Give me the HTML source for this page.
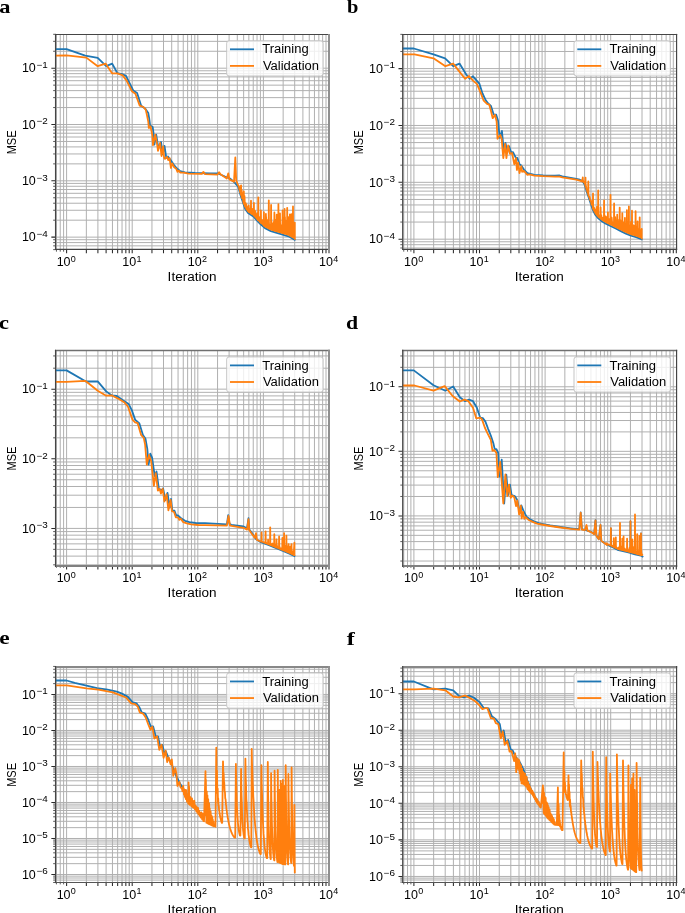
<!DOCTYPE html>
<html><head><meta charset="utf-8"><style>
html,body{margin:0;padding:0;background:#fff;}
svg{display:block;will-change:transform;}
text{font-family:"Liberation Sans",sans-serif;fill:#000;}
.t{font-size:12.5px;}
.s{font-size:9px;}
.l{font-size:12px;}
.p{font-family:"Liberation Serif",serif;font-weight:bold;font-size:19.5px;}
</style></head><body>
<svg width="685" height="913" viewBox="0 0 685 913">
<rect width="685" height="913" fill="#fff"/>
<clipPath id="clip_a"><rect x="55.55" y="34.5" width="273.45" height="214.86"/></clipPath>
<path d="M56.44 34.5V249.36M60.24 34.5V249.36M63.6 34.5V249.36M66.6 34.5V249.36M86.35 34.5V249.36M97.9 34.5V249.36M106.1 34.5V249.36M112.45 34.5V249.36M117.65 34.5V249.36M122.04 34.5V249.36M125.84 34.5V249.36M129.2 34.5V249.36M132.2 34.5V249.36M151.95 34.5V249.36M163.5 34.5V249.36M171.7 34.5V249.36M178.05 34.5V249.36M183.25 34.5V249.36M187.64 34.5V249.36M191.44 34.5V249.36M194.8 34.5V249.36M197.8 34.5V249.36M217.55 34.5V249.36M229.1 34.5V249.36M237.3 34.5V249.36M243.65 34.5V249.36M248.85 34.5V249.36M253.24 34.5V249.36M257.04 34.5V249.36M260.4 34.5V249.36M263.4 34.5V249.36M283.15 34.5V249.36M294.7 34.5V249.36M302.9 34.5V249.36M309.25 34.5V249.36M314.45 34.5V249.36M318.84 34.5V249.36M322.64 34.5V249.36M326 34.5V249.36M55.55 245.85H329M55.55 242.59H329M55.55 239.71H329M55.55 237.13H329M55.55 220.18H329M55.55 210.26H329M55.55 203.23H329M55.55 197.77H329M55.55 193.31H329M55.55 189.54H329M55.55 186.28H329M55.55 183.4H329M55.55 180.82H329M55.55 163.87H329M55.55 153.95H329M55.55 146.92H329M55.55 141.46H329M55.55 137H329M55.55 133.23H329M55.55 129.97H329M55.55 127.09H329M55.55 124.51H329M55.55 107.56H329M55.55 97.64H329M55.55 90.61H329M55.55 85.15H329M55.55 80.69H329M55.55 76.92H329M55.55 73.66H329M55.55 70.78H329M55.55 68.2H329M55.55 51.25H329M55.55 41.33H329M55.55 34.3H329" stroke="#b0b0b0" stroke-width="1" fill="none" clip-path="url(#clip_a)"/>
<path d="M55 49.1L66.6 49.1L85.2 55.7L97.7 57.9L106.2 66.2L112.2 63.6L117.4 73.2L122 74.1L126 75.8L133.2 90.5L137.1 92.9L141.1 105.6L145.3 108.8L148.3 113.1L149.2 118.4L150.1 125.4L152.7 127.1L154 136.8L154.4 144.7L156.2 134.6L158.4 148.2L161 142L162.8 154.3L164.5 146L166.3 157.8L168 156.5L170.6 160L174 165L177 168.5L180 171L185 172.3L195 173L210 173.3L218 173.5L225 176.5L230 178.5L234.7 182.6L238.2 186.7L240.5 194.9L242.8 201.9L245.2 208.9L248.1 213L253.4 216.5L258 221.7L260.4 224L265 228.1L270.9 231.1L276.7 232.8L282.6 234.6L288.4 236.3L294.7 239.8" stroke="#1f77b4" stroke-width="1.8" fill="none" stroke-linejoin="round" stroke-linecap="square" clip-path="url(#clip_a)"/>
<path d="M55 55.7L66.6 55.4L86.3 57.6L97.7 66.2L105.6 63.6L112.2 73.4L117.4 73.4L122.7 75.4L126.6 80.6L131.9 91.2L135.4 93.8L139.7 105.6L143.5 107L145.7 109.6L147 115.3L148.3 121.9L148.8 128L150.5 126.3L152.3 135L153 145.1L155.3 134.6L157.1 144.2L158 150.8L160.1 142.9L161.5 156L163.2 146.4L164.1 157.8L165 158.8L167 156.8L168.3 160.1L169.6 158.1L170.9 168L172.2 163.4L174.2 167.3L176.2 168.7L177.5 171.9L178.8 170.6L180.1 172.6L183.4 172.6L188.7 173.6L201.8 173.9L203.4 171.9L205.1 174.2L217.6 174.6L219.1 172.3L220.8 174.6L226.8 178.5L228.3 173.3L229.4 179.4L234 181.8L235.3 157.5L236.2 180.5L238.2 185.5L238.3 185.56L238.82 186.35L239.36 189.33L239.69 189.46L240.32 192.76L240.71 185.93L240.95 194.77L241.1 185.5L241.25 195.68L241.2 195.54L241.69 190.17L242.05 198.13L242.7 193.48L243.3 201.85L243.62 193.48L243.65 202.88L243.8 191.4L243.95 203.75L244.16 204.36L244.47 195.95L244.96 206.7L245.61 203.11L246.28 208.93L246.25 208.88L246.4 204.2L246.55 209.31L246.9 206.7L247.57 210.76L247.91 209.15L248.3 211.63L248.55 211.8L248.7 205.4L248.85 212L248.78 206.86L249.2 212.22L249.65 208.86L250.18 212.88L250.85 207.75L250.85 213.32L251 200.7L251.15 213.51L251.52 213.76L252.21 209.06L252.58 214.46L253.26 208.77L253.79 215.44L253.75 215.4L253.9 203L254.05 215.73L254.18 210.08L254.71 216.48L255.03 210.83L255.73 217.63L256.35 214.64L256.71 218.74L257.32 213.04L257.63 219.79L257.95 214.57L258.15 220.34L258.3 197.3L258.45 220.63L258.38 220.57L259.08 216.91L259.78 221.9L260.11 217.34L260.42 222.52L260.88 217.71L260.75 222.81L260.9 210.5L261.05 223.08L261.24 223.25L261.89 220.19L262.57 224.44L263.03 219.94L263.53 225.29L263.75 225.49L263.9 212.1L264.05 225.75L264.07 219.85L264.62 226.26L265.12 221.38L265.71 226.96L265.75 226.98L265.9 213.8L266.05 227.13L266.13 216.96L266.64 227.43L266.94 221.75L267.48 227.86L268.02 219.85L268.35 228.3L268.65 228.46L268.8 200.3L268.95 228.61L268.83 219.39L269.27 228.77L269.87 226.23L270.19 229.24L270.88 224.28L270.95 229.61L271.1 204.9L271.25 229.7L271.36 229.74L271.79 223.4L272.21 229.99L272.75 224.4L273.2 230.28L273.51 221.87L274.11 230.54L274.25 230.58L274.4 212.4L274.55 230.67L274.5 219.82L274.89 230.77L275.37 221.06L275.71 231.01L276.14 219.55L276.62 231.28L276.55 231.26L276.7 214.7L276.85 231.35L276.98 224.92L277.54 231.56L278.03 226.27L278.37 231.81L278.25 231.77L278.4 204.2L278.55 231.86L278.75 219.52L279.39 232.12L279.8 219.39L279.85 232.26L280 213.4L280.15 232.35L280.35 232.41L280.79 227.78L281.21 232.68L281.62 225.11L282.08 232.94L282.55 217.54L282.45 233.05L282.6 210.5L282.75 233.14L282.91 233.19L283.59 217.93L284.28 233.59L284.45 233.64L284.6 208.8L284.75 233.73L284.96 217.04L285.35 233.91L285.99 220.88L286.49 234.24L286.93 227.35L287.05 234.4L287.2 207.8L287.35 234.49L287.26 234.46L287.67 218.82L287.99 234.68L288.57 217.15L289.23 235.26L289.76 231.44L289.75 235.55L289.9 214.4L290.05 235.72L290.35 235.89L290.77 222.15L291.28 236.4L291.35 236.44L291.5 214.1L291.65 236.61L291.96 224.17L292.4 237.02L292.85 237.27L293 206.5L293.15 237.44L293.04 227.2L293.65 237.72L294.03 227.4L294.66 238.28L294.8 222.6L294.8 238.8" stroke="#ff7f0e" stroke-width="1.8" fill="none" stroke-linejoin="round" stroke-linecap="square" clip-path="url(#clip_a)"/>
<path d="M66.6 249.36v3.9M86.35 249.36v3.9M97.9 249.36v3.9M106.1 249.36v3.9M112.45 249.36v3.9M117.65 249.36v3.9M122.04 249.36v3.9M125.84 249.36v3.9M129.2 249.36v3.9M132.2 249.36v3.9M151.95 249.36v3.9M163.5 249.36v3.9M171.7 249.36v3.9M178.05 249.36v3.9M183.25 249.36v3.9M187.64 249.36v3.9M191.44 249.36v3.9M194.8 249.36v3.9M197.8 249.36v3.9M217.55 249.36v3.9M229.1 249.36v3.9M237.3 249.36v3.9M243.65 249.36v3.9M248.85 249.36v3.9M253.24 249.36v3.9M257.04 249.36v3.9M260.4 249.36v3.9M263.4 249.36v3.9M283.15 249.36v3.9M294.7 249.36v3.9M302.9 249.36v3.9M309.25 249.36v3.9M314.45 249.36v3.9M318.84 249.36v3.9M322.64 249.36v3.9M326 249.36v3.9M329 249.36v3.9M55.55 237.13h-4.2M55.55 180.82h-4.2M55.55 124.51h-4.2M55.55 68.2h-4.2" stroke="#2a2a2a" stroke-width="1.05" fill="none"/>
<path d="M56.44 249.36v2.3M60.24 249.36v2.3M63.6 249.36v2.3M55.55 249.62h-2.4M55.55 245.85h-2.4M55.55 242.59h-2.4M55.55 239.71h-2.4M55.55 220.18h-2.4M55.55 210.26h-2.4M55.55 203.23h-2.4M55.55 197.77h-2.4M55.55 193.31h-2.4M55.55 189.54h-2.4M55.55 186.28h-2.4M55.55 183.4h-2.4M55.55 163.87h-2.4M55.55 153.95h-2.4M55.55 146.92h-2.4M55.55 141.46h-2.4M55.55 137h-2.4M55.55 133.23h-2.4M55.55 129.97h-2.4M55.55 127.09h-2.4M55.55 107.56h-2.4M55.55 97.64h-2.4M55.55 90.61h-2.4M55.55 85.15h-2.4M55.55 80.69h-2.4M55.55 76.92h-2.4M55.55 73.66h-2.4M55.55 70.78h-2.4M55.55 51.25h-2.4M55.55 41.33h-2.4M55.55 34.3h-2.4" stroke="#333" stroke-width="0.8" fill="none"/>
<path d="M54.95 34.5H330" stroke="#454545" stroke-width="1.2"/>
<path d="M54.95 249.36H330" stroke="#454545" stroke-width="1.2"/>
<path d="M55.55 33.9V249.96" stroke="#454545" stroke-width="1.2"/>
<path d="M329 33.9V249.96" stroke="#909090" stroke-width="2"/>
<text x="56.65" y="265.86" class="t">10</text>
<text x="70.85" y="261.66" class="s">0</text>
<text x="122.25" y="265.86" class="t">10</text>
<text x="136.45" y="261.66" class="s">1</text>
<text x="187.85" y="265.86" class="t">10</text>
<text x="202.05" y="261.66" class="s">2</text>
<text x="253.45" y="265.86" class="t">10</text>
<text x="267.65" y="261.66" class="s">3</text>
<text x="319.05" y="265.86" class="t">10</text>
<text x="333.25" y="261.66" class="s">4</text>
<text x="21.9" y="241.38" class="t">10</text>
<text x="36.45" y="236.93" class="s" textLength="11.3" lengthAdjust="spacingAndGlyphs">−4</text>
<text x="21.9" y="185.07" class="t">10</text>
<text x="36.45" y="180.62" class="s" textLength="11.3" lengthAdjust="spacingAndGlyphs">−3</text>
<text x="21.9" y="128.76" class="t">10</text>
<text x="36.45" y="124.31" class="s" textLength="11.3" lengthAdjust="spacingAndGlyphs">−2</text>
<text x="21.9" y="72.45" class="t">10</text>
<text x="36.45" y="68" class="s" textLength="11.3" lengthAdjust="spacingAndGlyphs">−1</text>
<text x="192.08" y="280.86" class="l" text-anchor="middle" textLength="48.9" lengthAdjust="spacingAndGlyphs">Iteration</text>
<text transform="translate(15.85,142.43) rotate(-90)" x="0" y="0" class="l" text-anchor="middle" textLength="23.9" lengthAdjust="spacingAndGlyphs">MSE</text>
<rect x="226.7" y="40.8" width="96.4" height="35.2" rx="2.4" fill="#fff" fill-opacity="0.8" stroke="#c2c2c2" stroke-width="0.95"/>
<path d="M230 49.3h24" stroke="#1f77b4" stroke-width="1.8"/>
<path d="M230 65.9h24" stroke="#ff7f0e" stroke-width="1.8"/>
<text x="262.2" y="53.4" class="l" textLength="46.5" lengthAdjust="spacingAndGlyphs">Training</text>
<text x="262.9" y="69.9" class="l" textLength="56.1" lengthAdjust="spacingAndGlyphs">Validation</text>
<text x="-0.8" y="12.7" class="p" textLength="11.2" lengthAdjust="spacingAndGlyphs">a</text>
<clipPath id="clip_b"><rect x="402.7" y="34.5" width="273.6" height="214.86"/></clipPath>
<path d="M403.74 34.5V249.36M407.54 34.5V249.36M410.9 34.5V249.36M413.9 34.5V249.36M433.65 34.5V249.36M445.2 34.5V249.36M453.4 34.5V249.36M459.75 34.5V249.36M464.95 34.5V249.36M469.34 34.5V249.36M473.14 34.5V249.36M476.5 34.5V249.36M479.5 34.5V249.36M499.25 34.5V249.36M510.8 34.5V249.36M519 34.5V249.36M525.35 34.5V249.36M530.55 34.5V249.36M534.94 34.5V249.36M538.74 34.5V249.36M542.1 34.5V249.36M545.1 34.5V249.36M564.85 34.5V249.36M576.4 34.5V249.36M584.6 34.5V249.36M590.95 34.5V249.36M596.15 34.5V249.36M600.54 34.5V249.36M604.34 34.5V249.36M607.7 34.5V249.36M610.7 34.5V249.36M630.45 34.5V249.36M642 34.5V249.36M650.2 34.5V249.36M656.55 34.5V249.36M661.75 34.5V249.36M666.14 34.5V249.36M669.94 34.5V249.36M673.3 34.5V249.36M402.7 247.99H676.3M402.7 244.69H676.3M402.7 241.78H676.3M402.7 239.18H676.3M402.7 222.06H676.3M402.7 212.05H676.3M402.7 204.95H676.3M402.7 199.44H676.3M402.7 194.93H676.3M402.7 191.13H676.3M402.7 187.83H676.3M402.7 184.92H676.3M402.7 182.32H676.3M402.7 165.2H676.3M402.7 155.19H676.3M402.7 148.09H676.3M402.7 142.58H676.3M402.7 138.07H676.3M402.7 134.27H676.3M402.7 130.97H676.3M402.7 128.06H676.3M402.7 125.46H676.3M402.7 108.34H676.3M402.7 98.33H676.3M402.7 91.23H676.3M402.7 85.72H676.3M402.7 81.21H676.3M402.7 77.41H676.3M402.7 74.11H676.3M402.7 71.2H676.3M402.7 68.6H676.3M402.7 51.48H676.3M402.7 41.47H676.3M402.7 34.37H676.3" stroke="#b0b0b0" stroke-width="1" fill="none" clip-path="url(#clip_b)"/>
<path d="M402 48.5L413.8 48.5L433.5 54.4L445.1 58.3L453.2 66.2L459.5 63.6L466.4 74.7L469.7 78.7L473 76.3L479.5 83.9L482.5 93.5L485.3 99.4L487.9 103.3L490.9 105.9L493.6 114.3L496.2 114.7L498 120.4L499.7 137.9L501.9 130.9L503.8 150.8L505.5 142.9L507.3 152.5L509 146L511.2 152.5L513 152.1L516 158.2L517.3 157.8L519.5 164.3L521.3 165.6L523.9 169.6L527.4 173.1L534.4 174.8L543.2 175.5L555 175.7L559.6 175.5L562.3 176.4L576.3 178.8L579.8 179.7L582.4 181L584.6 184.6L586.8 192L589.4 199.5L592.7 209.6L595.2 214.7L598.3 218.3L601.4 220.9L605.4 223.4L610.5 226L615.7 228.5L620.8 231.1L625.9 233.6L631 235.7L636.1 237.2L641.7 239.3" stroke="#1f77b4" stroke-width="1.8" fill="none" stroke-linejoin="round" stroke-linecap="square" clip-path="url(#clip_b)"/>
<path d="M402 54.4L414.5 54.4L433.5 58.3L445.4 66.2L453.2 63.6L459.8 72.1L465.1 78.7L469 76L473 80.6L476.9 83.9L480.8 93.1L483.5 100.3L487 103.8L489.2 104.6L490.9 110.8L492.7 118.2L494.9 114.7L496.6 121.3L497.5 138.8L500.3 135L501.6 138.5L503.3 158.2L505.1 143.8L506.4 158.2L508.1 145.5L509.9 153.8L512.1 153L514.3 164.3L516 158.2L516.9 170L518.2 162.6L519.5 173.1L521.3 166.1L522.1 171.8L523.9 170.9L527.4 174.8L529.2 174.4L534.4 175.7L543.2 176.2L555 176.6L559.6 176.6L562.3 177.4L576.3 179.6L579.8 180.6L582 181.5L582.2 179.4L582.8 181.53L582.65 179.91L582.8 177.3L582.95 180.4L583.47 181.26L584.14 182.53L584.63 183.2L585.19 184.26L585.35 185.62L585.5 177.6L585.65 186.63L585.53 186.24L585.93 185.9L586.46 189.36L586.85 189.42L587.52 192.56L587.88 191.51L588.23 194.64L588.15 194.39L588.3 181.4L588.45 195.26L588.59 195.2L589.23 197.52L589.62 196.79L590.27 200.66L590.95 200.6L591.52 204.5L592.2 202.44L592.89 208.48L592.85 208.41L593 193.4L593.15 209.02L593.31 206.06L593.67 210.09L594 207.6L594.54 211.86L595.11 209.3L595.54 213.59L596.03 210.48L596.52 214.73L596.84 207.01L597.15 215.47L597.79 214.4L598.05 216.51L598.2 190.5L598.35 216.84L598.41 216.89L598.94 215.59L599.26 217.6L599.94 215.23L600.54 218.68L600.45 218.6L600.6 207.5L600.75 218.85L601.22 215.2L601.66 219.56L602.27 217.49L602.87 220.32L603.51 218.75L603.95 220.99L604.1 200.4L604.25 221.18L604.19 221.14L604.63 215.47L605.29 221.83L605.96 216.59L606.39 222.4L606.76 220.26L607.12 222.78L607.82 220.17L607.75 223.1L607.9 212.5L608.05 223.25L608.14 223.3L608.65 218.78L609.05 223.76L609.68 218.88L610.15 224.32L610.35 224.42L610.5 194.8L610.65 224.57L610.81 222.54L611.31 224.89L611.66 217.68L612.34 225.39L612.96 222.97L613.43 225.91L614.07 222.04L613.95 226.16L614.1 203.5L614.25 226.3L614.55 226.45L615.19 217.22L615.67 226.99L616.26 221.43L616.68 227.5L617.04 222.53L617.05 227.69L617.2 214.7L617.35 227.84L617.73 228.04L618.28 221.93L618.72 228.54L619.13 219.73L619.55 228.96L619.7 207.6L619.85 229.12L619.78 229.08L620.39 220.18L620.97 229.68L621.57 224.41L622.15 230.26L622.15 230.26L622.3 213.2L622.45 230.41L622.65 221.17L623.22 230.79L623.9 222.8L624.43 231.38L624.75 231.54L624.9 217.8L625.05 231.68L624.95 226.97L625.52 231.91L626.15 223.61L626.77 232.46L626.75 232.45L626.9 210.1L627.05 232.57L627.33 223.03L627.96 232.95L628.59 222.02L628.75 233.27L628.9 206.4L629.05 233.4L629.17 233.45L629.85 225.89L630.36 233.94L631 221.85L631.49 234.34L631.85 234.45L632 210.7L632.15 234.54L632.08 224.24L632.45 234.63L632.98 225.12L633.45 234.92L634.06 225.67L634.64 235.27L635.01 227.99L635.57 235.54L635.45 235.51L635.6 211.2L635.75 235.6L636.14 226.89L636.46 235.83L636.85 233.05L637.2 236.11L637.58 232.15L637.45 236.21L637.6 221.4L637.75 236.32L637.89 236.37L638.34 228.92L638.88 236.74L639.54 234.94L639.55 236.99L639.7 217.3L639.85 237.11L640 237.16L640.47 234.53L641.1 237.57L641.41 231.48L641.7 229L641.7 238.3" stroke="#ff7f0e" stroke-width="1.8" fill="none" stroke-linejoin="round" stroke-linecap="square" clip-path="url(#clip_b)"/>
<path d="M413.9 249.36v3.9M433.65 249.36v3.9M445.2 249.36v3.9M453.4 249.36v3.9M459.75 249.36v3.9M464.95 249.36v3.9M469.34 249.36v3.9M473.14 249.36v3.9M476.5 249.36v3.9M479.5 249.36v3.9M499.25 249.36v3.9M510.8 249.36v3.9M519 249.36v3.9M525.35 249.36v3.9M530.55 249.36v3.9M534.94 249.36v3.9M538.74 249.36v3.9M542.1 249.36v3.9M545.1 249.36v3.9M564.85 249.36v3.9M576.4 249.36v3.9M584.6 249.36v3.9M590.95 249.36v3.9M596.15 249.36v3.9M600.54 249.36v3.9M604.34 249.36v3.9M607.7 249.36v3.9M610.7 249.36v3.9M630.45 249.36v3.9M642 249.36v3.9M650.2 249.36v3.9M656.55 249.36v3.9M661.75 249.36v3.9M666.14 249.36v3.9M669.94 249.36v3.9M673.3 249.36v3.9M676.3 249.36v3.9M402.7 239.18h-4.2M402.7 182.32h-4.2M402.7 125.46h-4.2M402.7 68.6h-4.2" stroke="#2a2a2a" stroke-width="1.05" fill="none"/>
<path d="M403.74 249.36v2.3M407.54 249.36v2.3M410.9 249.36v2.3M402.7 247.99h-2.4M402.7 244.69h-2.4M402.7 241.78h-2.4M402.7 222.06h-2.4M402.7 212.05h-2.4M402.7 204.95h-2.4M402.7 199.44h-2.4M402.7 194.93h-2.4M402.7 191.13h-2.4M402.7 187.83h-2.4M402.7 184.92h-2.4M402.7 165.2h-2.4M402.7 155.19h-2.4M402.7 148.09h-2.4M402.7 142.58h-2.4M402.7 138.07h-2.4M402.7 134.27h-2.4M402.7 130.97h-2.4M402.7 128.06h-2.4M402.7 108.34h-2.4M402.7 98.33h-2.4M402.7 91.23h-2.4M402.7 85.72h-2.4M402.7 81.21h-2.4M402.7 77.41h-2.4M402.7 74.11h-2.4M402.7 71.2h-2.4M402.7 51.48h-2.4M402.7 41.47h-2.4M402.7 34.37h-2.4" stroke="#333" stroke-width="0.8" fill="none"/>
<path d="M402.1 34.5H677.17" stroke="#454545" stroke-width="1.2"/>
<path d="M402.1 249.36H677.17" stroke="#454545" stroke-width="1.2"/>
<path d="M402.7 33.9V249.96" stroke="#454545" stroke-width="1.2"/>
<path d="M676.57 33.9V249.96" stroke="#454545" stroke-width="1.2"/>
<text x="403.95" y="265.86" class="t">10</text>
<text x="418.15" y="261.66" class="s">0</text>
<text x="469.55" y="265.86" class="t">10</text>
<text x="483.75" y="261.66" class="s">1</text>
<text x="535.15" y="265.86" class="t">10</text>
<text x="549.35" y="261.66" class="s">2</text>
<text x="600.75" y="265.86" class="t">10</text>
<text x="614.95" y="261.66" class="s">3</text>
<text x="666.35" y="265.86" class="t">10</text>
<text x="680.55" y="261.66" class="s">4</text>
<text x="369.05" y="243.43" class="t">10</text>
<text x="383.6" y="238.98" class="s" textLength="11.3" lengthAdjust="spacingAndGlyphs">−4</text>
<text x="369.05" y="186.57" class="t">10</text>
<text x="383.6" y="182.12" class="s" textLength="11.3" lengthAdjust="spacingAndGlyphs">−3</text>
<text x="369.05" y="129.71" class="t">10</text>
<text x="383.6" y="125.26" class="s" textLength="11.3" lengthAdjust="spacingAndGlyphs">−2</text>
<text x="369.05" y="72.85" class="t">10</text>
<text x="383.6" y="68.4" class="s" textLength="11.3" lengthAdjust="spacingAndGlyphs">−1</text>
<text x="539.3" y="280.86" class="l" text-anchor="middle" textLength="48.9" lengthAdjust="spacingAndGlyphs">Iteration</text>
<text transform="translate(363,142.43) rotate(-90)" x="0" y="0" class="l" text-anchor="middle" textLength="23.9" lengthAdjust="spacingAndGlyphs">MSE</text>
<rect x="574" y="40.8" width="96.4" height="35.2" rx="2.4" fill="#fff" fill-opacity="0.8" stroke="#c2c2c2" stroke-width="0.95"/>
<path d="M577.3 49.3h24" stroke="#1f77b4" stroke-width="1.8"/>
<path d="M577.3 65.9h24" stroke="#ff7f0e" stroke-width="1.8"/>
<text x="609.5" y="53.4" class="l" textLength="46.5" lengthAdjust="spacingAndGlyphs">Training</text>
<text x="610.2" y="69.9" class="l" textLength="56.1" lengthAdjust="spacingAndGlyphs">Validation</text>
<text x="347.1" y="13.1" class="p" textLength="11.39" lengthAdjust="spacingAndGlyphs">b</text>
<clipPath id="clip_c"><rect x="55.55" y="350.6" width="273.45" height="214.9"/></clipPath>
<path d="M56.44 350.6V565.5M60.24 350.6V565.5M63.6 350.6V565.5M66.6 350.6V565.5M86.35 350.6V565.5M97.9 350.6V565.5M106.1 350.6V565.5M112.45 350.6V565.5M117.65 350.6V565.5M122.04 350.6V565.5M125.84 350.6V565.5M129.2 350.6V565.5M132.2 350.6V565.5M151.95 350.6V565.5M163.5 350.6V565.5M171.7 350.6V565.5M178.05 350.6V565.5M183.25 350.6V565.5M187.64 350.6V565.5M191.44 350.6V565.5M194.8 350.6V565.5M197.8 350.6V565.5M217.55 350.6V565.5M229.1 350.6V565.5M237.3 350.6V565.5M243.65 350.6V565.5M248.85 350.6V565.5M253.24 350.6V565.5M257.04 350.6V565.5M260.4 350.6V565.5M263.4 350.6V565.5M283.15 350.6V565.5M294.7 350.6V565.5M302.9 350.6V565.5M309.25 350.6V565.5M314.45 350.6V565.5M318.84 350.6V565.5M322.64 350.6V565.5M326 350.6V565.5M55.55 564.82H329M55.55 556.12H329M55.55 549.37H329M55.55 543.86H329M55.55 539.2H329M55.55 535.16H329M55.55 531.6H329M55.55 528.41H329M55.55 507.45H329M55.55 495.19H329M55.55 486.49H329M55.55 479.74H329M55.55 474.23H329M55.55 469.57H329M55.55 465.53H329M55.55 461.97H329M55.55 458.78H329M55.55 437.82H329M55.55 425.56H329M55.55 416.86H329M55.55 410.11H329M55.55 404.6H329M55.55 399.94H329M55.55 395.9H329M55.55 392.34H329M55.55 389.15H329M55.55 368.19H329M55.55 355.93H329" stroke="#b0b0b0" stroke-width="1" fill="none" clip-path="url(#clip_c)"/>
<path d="M55 370.4L66.6 370.4L85.9 381.5L97.7 381.3L106.2 391.4L111.5 395.3L116.8 396L123.3 400.6L128.6 403.9L131.9 410.4L135.1 419.6L135.9 420.4L139.4 423.5L142.9 434.9L145.5 438.8L147.3 448.9L148.6 464.7L150.3 453.7L152.1 457.7L154.7 476L156.5 471.5L158.8 488.4L161.4 490.6L163.1 488.4L165.3 500.2L167.5 492.8L169.7 507.7L171 498.9L172.3 510.3L174.5 510.7L176.3 515.5L178 515.5L181.5 518.6L185 520.8L189.4 522.1L195.5 523L205 523.2L226.9 524.3L228.2 515.1L229.5 523.9L231.3 524.8L243.5 526.5L247 528.3L248.5 518.2L249.2 529.2L252.3 533.5L255.8 538.8L259.3 541.4L262.3 542.6L269.6 545.5L276.9 548.5L284.2 551.4L290 553.9L294.4 556.1" stroke="#1f77b4" stroke-width="1.8" fill="none" stroke-linejoin="round" stroke-linecap="square" clip-path="url(#clip_c)"/>
<path d="M55 381.9L66.6 381.9L85.2 380.9L87.2 382.2L97.7 390.7L106.2 395.7L111.5 395.3L118.1 398.6L124.6 402.6L127.9 406.5L132.5 419.6L135.1 422.3L137.6 423.1L141.1 434.9L143.8 438L145.1 444.5L146.8 464.7L149 455L151.2 461.2L153.9 485.8L155.7 473.1L157.9 490.6L159.6 488.8L160.9 493.6L162.7 488.8L164.4 501.5L166.6 494.1L168.4 510.3L170.6 499.8L171.9 511.2L174.1 512L175.8 517.3L178 517.3L179.3 519.9L180.6 518.6L183.3 522.1L186.8 523.4L191.2 524.3L198.2 525L205 525.2L226.9 525.6L228.5 516L230 525.6L243.5 527.8L247 529.6L248.5 519.1L249.2 530L252.3 534.4L254.9 537.9L256 533.1L256.8 539.7L259 540.8L261 541.5L261.2 541.36L261.56 541.42L261.45 541.46L261.6 532.4L261.75 541.58L261.89 541.64L262.34 541.84L262.84 542.01L263.31 542.16L263.65 542.34L264.28 542.47L264.67 542.74L265.35 542.57L265.45 543.05L265.6 531.3L265.75 543.17L265.81 543.19L266.12 542.56L266.54 543.48L266.89 543.15L267.51 543.87L268.05 543.13L267.95 544.04L268.1 539.7L268.25 544.16L268.5 544.26L268.82 544.01L269.2 544.54L269.67 543.94L270.05 544.88L270.2 527.3L270.35 545.01L270.21 544.95L270.63 543.45L271.21 545.36L271.74 544.16L272.39 545.85L272.8 543.52L273.15 546.16L273.75 545.55L274.25 546.61L274.15 546.57L274.3 534.2L274.45 546.69L274.82 544.54L275.35 547.06L275.77 544.98L276.31 547.46L276.35 547.47L276.5 539.3L276.65 547.6L276.79 544.93L277.47 547.93L278.03 547.33L278.62 548.38L278.95 548.51L279.1 536.4L279.25 548.63L279.31 545.68L279.73 548.82L280.29 548.26L280.78 549.24L281.13 548.42L281.73 549.62L282.13 547.58L282.25 549.83L282.4 537.9L282.55 549.94L282.78 550.04L283.26 547.2L283.91 550.49L283.95 550.5L284.1 533.1L284.25 550.62L284.56 548.53L285.02 550.96L285.68 545.69L286.04 551.39L286.25 551.48L286.4 535.7L286.55 551.61L286.43 549.22L286.93 551.77L287.33 550.64L287.8 552.15L288.32 545.89L288.45 552.43L288.6 544.1L288.75 552.56L288.9 552.63L289.45 547.6L289.77 553L290.38 546.61L291 553.6L291.46 551.61L291.35 553.78L291.5 544.1L291.65 553.93L292.01 554.11L292.34 551.26L292.71 554.45L293.03 552.92L293.39 554.79L293.83 553.08L294.4 542.6L294.4 555.2" stroke="#ff7f0e" stroke-width="1.8" fill="none" stroke-linejoin="round" stroke-linecap="square" clip-path="url(#clip_c)"/>
<path d="M66.6 565.5v3.9M86.35 565.5v3.9M97.9 565.5v3.9M106.1 565.5v3.9M112.45 565.5v3.9M117.65 565.5v3.9M122.04 565.5v3.9M125.84 565.5v3.9M129.2 565.5v3.9M132.2 565.5v3.9M151.95 565.5v3.9M163.5 565.5v3.9M171.7 565.5v3.9M178.05 565.5v3.9M183.25 565.5v3.9M187.64 565.5v3.9M191.44 565.5v3.9M194.8 565.5v3.9M197.8 565.5v3.9M217.55 565.5v3.9M229.1 565.5v3.9M237.3 565.5v3.9M243.65 565.5v3.9M248.85 565.5v3.9M253.24 565.5v3.9M257.04 565.5v3.9M260.4 565.5v3.9M263.4 565.5v3.9M283.15 565.5v3.9M294.7 565.5v3.9M302.9 565.5v3.9M309.25 565.5v3.9M314.45 565.5v3.9M318.84 565.5v3.9M322.64 565.5v3.9M326 565.5v3.9M329 565.5v3.9M55.55 528.41h-4.2M55.55 458.78h-4.2M55.55 389.15h-4.2" stroke="#2a2a2a" stroke-width="1.05" fill="none"/>
<path d="M56.44 565.5v2.3M60.24 565.5v2.3M63.6 565.5v2.3M55.55 564.82h-2.4M55.55 556.12h-2.4M55.55 549.37h-2.4M55.55 543.86h-2.4M55.55 539.2h-2.4M55.55 535.16h-2.4M55.55 531.6h-2.4M55.55 507.45h-2.4M55.55 495.19h-2.4M55.55 486.49h-2.4M55.55 479.74h-2.4M55.55 474.23h-2.4M55.55 469.57h-2.4M55.55 465.53h-2.4M55.55 461.97h-2.4M55.55 437.82h-2.4M55.55 425.56h-2.4M55.55 416.86h-2.4M55.55 410.11h-2.4M55.55 404.6h-2.4M55.55 399.94h-2.4M55.55 395.9h-2.4M55.55 392.34h-2.4M55.55 368.19h-2.4M55.55 355.93h-2.4" stroke="#333" stroke-width="0.8" fill="none"/>
<path d="M54.95 350.5H330" stroke="#707070" stroke-width="1.4"/>
<path d="M54.95 566H330" stroke="#808080" stroke-width="2"/>
<path d="M55.55 349.8V567" stroke="#454545" stroke-width="1.2"/>
<path d="M329 349.8V567" stroke="#909090" stroke-width="2"/>
<text x="56.65" y="582" class="t">10</text>
<text x="70.85" y="577.8" class="s">0</text>
<text x="122.25" y="582" class="t">10</text>
<text x="136.45" y="577.8" class="s">1</text>
<text x="187.85" y="582" class="t">10</text>
<text x="202.05" y="577.8" class="s">2</text>
<text x="253.45" y="582" class="t">10</text>
<text x="267.65" y="577.8" class="s">3</text>
<text x="319.05" y="582" class="t">10</text>
<text x="333.25" y="577.8" class="s">4</text>
<text x="21.9" y="532.66" class="t">10</text>
<text x="36.45" y="528.21" class="s" textLength="11.3" lengthAdjust="spacingAndGlyphs">−3</text>
<text x="21.9" y="463.03" class="t">10</text>
<text x="36.45" y="458.58" class="s" textLength="11.3" lengthAdjust="spacingAndGlyphs">−2</text>
<text x="21.9" y="393.4" class="t">10</text>
<text x="36.45" y="388.95" class="s" textLength="11.3" lengthAdjust="spacingAndGlyphs">−1</text>
<text x="192.08" y="597" class="l" text-anchor="middle" textLength="48.9" lengthAdjust="spacingAndGlyphs">Iteration</text>
<text transform="translate(15.85,458.55) rotate(-90)" x="0" y="0" class="l" text-anchor="middle" textLength="23.9" lengthAdjust="spacingAndGlyphs">MSE</text>
<rect x="226.7" y="356.9" width="96.4" height="35.2" rx="2.4" fill="#fff" fill-opacity="0.8" stroke="#c2c2c2" stroke-width="0.95"/>
<path d="M230 365.4h24" stroke="#1f77b4" stroke-width="1.8"/>
<path d="M230 382h24" stroke="#ff7f0e" stroke-width="1.8"/>
<text x="262.2" y="369.5" class="l" textLength="46.5" lengthAdjust="spacingAndGlyphs">Training</text>
<text x="262.9" y="386" class="l" textLength="56.1" lengthAdjust="spacingAndGlyphs">Validation</text>
<text x="-0.96" y="328.7" class="p" textLength="9.95" lengthAdjust="spacingAndGlyphs">c</text>
<clipPath id="clip_d"><rect x="402.7" y="350.6" width="273.6" height="214.9"/></clipPath>
<path d="M403.74 350.6V565.5M407.54 350.6V565.5M410.9 350.6V565.5M413.9 350.6V565.5M433.65 350.6V565.5M445.2 350.6V565.5M453.4 350.6V565.5M459.75 350.6V565.5M464.95 350.6V565.5M469.34 350.6V565.5M473.14 350.6V565.5M476.5 350.6V565.5M479.5 350.6V565.5M499.25 350.6V565.5M510.8 350.6V565.5M519 350.6V565.5M525.35 350.6V565.5M530.55 350.6V565.5M534.94 350.6V565.5M538.74 350.6V565.5M542.1 350.6V565.5M545.1 350.6V565.5M564.85 350.6V565.5M576.4 350.6V565.5M584.6 350.6V565.5M590.95 350.6V565.5M596.15 350.6V565.5M600.54 350.6V565.5M604.34 350.6V565.5M607.7 350.6V565.5M610.7 350.6V565.5M630.45 350.6V565.5M642 350.6V565.5M650.2 350.6V565.5M656.55 350.6V565.5M661.75 350.6V565.5M666.14 350.6V565.5M669.94 350.6V565.5M673.3 350.6V565.5M402.7 561.04H676.3M402.7 549.67H676.3M402.7 541.6H676.3M402.7 535.35H676.3M402.7 530.23H676.3M402.7 525.91H676.3M402.7 522.17H676.3M402.7 518.86H676.3M402.7 515.91H676.3M402.7 496.47H676.3M402.7 485.1H676.3M402.7 477.03H676.3M402.7 470.78H676.3M402.7 465.66H676.3M402.7 461.34H676.3M402.7 457.6H676.3M402.7 454.29H676.3M402.7 451.34H676.3M402.7 431.9H676.3M402.7 420.53H676.3M402.7 412.46H676.3M402.7 406.21H676.3M402.7 401.09H676.3M402.7 396.77H676.3M402.7 393.03H676.3M402.7 389.72H676.3M402.7 386.77H676.3M402.7 367.33H676.3M402.7 355.96H676.3" stroke="#b0b0b0" stroke-width="1" fill="none" clip-path="url(#clip_d)"/>
<path d="M402 370.4L413.8 370.4L433.5 385.2L445.4 390.7L453.2 386.5L459.8 397.3L465.1 401.2L469 399.7L473 401.2L476.9 407.8L480.2 417.7L482.8 418.1L485.4 421.6L488.1 428.8L490.8 435.5L493.4 443.4L494.7 449.1L496.4 449.1L498.2 453L499.5 476.7L501.7 459.6L504.2 503.5L506.3 474.6L508.1 495.2L509.9 484.7L511.6 495.2L514.7 496.1L517.3 500L519.8 513L521.3 505.3L523.5 511L526.5 516.7L530 519.3L534.4 521.5L538.8 523.2L543.2 524.1L550.2 525.5L560.4 527L570.7 528.3L579.3 529.2L580.7 512.5L581.9 529.2L585 529.8L591.1 531.8L594.2 534L595.5 520.2L596.4 535.6L598.8 539.3L600.5 525L601.3 540.8L602.6 541.9L608.8 545.5L610.7 546.4L610.9 528.3L611.1 546.5L617.5 549.8L626.3 552L630.3 553L630.5 521.3L630.7 553.1L635 554.3L640.8 555.6L641 533.5L641.2 555.8L642.5 556.5" stroke="#1f77b4" stroke-width="1.8" fill="none" stroke-linejoin="round" stroke-linecap="square" clip-path="url(#clip_d)"/>
<path d="M402 385.5L414.5 385.5L433.5 390.7L444.7 386.1L452.6 396L459.8 401.5L464.4 399.7L468.4 401.2L473 407.8L476.2 418.3L480.2 417.7L482.1 419.6L484.8 427.5L487.3 432.9L490.8 439.9L492.5 450.8L494.3 450L496.4 453L497.8 477.1L500.2 462L503.3 503.5L505.4 474.5L507.3 496.1L509 484.7L510.8 497.8L512.5 495.6L514.3 497.4L516 506.2L517.3 500.5L519.1 514.5L520.8 505.7L521.7 518.4L523 511.8L524.3 518.9L525.6 517.1L528.3 519.7L532.7 521.9L537 523.7L541.4 524.5L550.2 526L560.4 527.5L570.7 528.8L579.3 529.6L580.7 512.7L581.9 529.6L585 530.1L586.5 525L587.5 530.6L591.1 532.1L594.2 534.2L595.5 520.4L596.4 535.7L598.8 539.3L600.5 525L601.3 540.8L605.4 543.9L606 544.3L606.2 543.13L606.78 545.06L607.31 543.76L607.9 544.4L608.45 544.41L609.13 544.85L609.6 544.99L610.28 545.39L610.63 545.51L610.75 545.56L610.9 528.1L611.05 545.71L611.39 545.45L611.99 546.18L612.32 545.78L612.68 546.52L613.12 546.7L613.65 547L613.65 547L613.8 538.2L613.95 547.15L614.35 546.8L614.96 547.65L615.58 547.48L615.65 547.99L615.8 537.3L615.95 548.13L616.04 548.18L616.81 547.68L617.45 548.87L617.88 548.54L618.24 549.08L618.74 547.51L619.24 549.34L619.95 549.51L619.85 549.49L620 522.8L620.15 549.56L620.37 549.62L620.91 546.73L621.41 549.88L622.02 547.21L622.15 550.06L622.3 538.6L622.45 550.14L622.47 550.14L622.94 546.7L623.45 550.39L623.6 536.4L623.75 550.46L623.61 550.43L624.05 550.15L624.4 550.63L624.81 548.58L625.34 550.86L625.99 550.51L626.6 551.18L626.95 551.26L627.1 538.6L627.25 551.34L627.12 550.45L627.57 551.42L628.25 550.33L628.97 551.77L629.47 548.02L630.08 552.06L630.35 552.12L630.5 521.1L630.65 552.2L630.85 551.19L631.29 552.36L631.77 550.92L632.13 552.57L632.25 552.6L632.4 539.5L632.55 552.68L632.72 551.37L633.31 552.87L633.84 547.17L634.38 553.14L634.85 553.26L635 514.5L635.15 553.34L635.1 552.1L635.49 553.44L636.18 551.83L636.6 553.77L637.05 553.9L637.2 534.2L637.35 553.99L637.34 552.43L638.09 554.21L638.68 550.82L639.06 554.49L639.25 554.55L639.4 536L639.55 554.63L639.81 552.63L640.45 554.9L640.85 555.02L641 533.3L641.15 555.1L641.15 549.68L641.6 555.24L642.2 554.8" stroke="#ff7f0e" stroke-width="1.8" fill="none" stroke-linejoin="round" stroke-linecap="square" clip-path="url(#clip_d)"/>
<path d="M413.9 565.5v3.9M433.65 565.5v3.9M445.2 565.5v3.9M453.4 565.5v3.9M459.75 565.5v3.9M464.95 565.5v3.9M469.34 565.5v3.9M473.14 565.5v3.9M476.5 565.5v3.9M479.5 565.5v3.9M499.25 565.5v3.9M510.8 565.5v3.9M519 565.5v3.9M525.35 565.5v3.9M530.55 565.5v3.9M534.94 565.5v3.9M538.74 565.5v3.9M542.1 565.5v3.9M545.1 565.5v3.9M564.85 565.5v3.9M576.4 565.5v3.9M584.6 565.5v3.9M590.95 565.5v3.9M596.15 565.5v3.9M600.54 565.5v3.9M604.34 565.5v3.9M607.7 565.5v3.9M610.7 565.5v3.9M630.45 565.5v3.9M642 565.5v3.9M650.2 565.5v3.9M656.55 565.5v3.9M661.75 565.5v3.9M666.14 565.5v3.9M669.94 565.5v3.9M673.3 565.5v3.9M676.3 565.5v3.9M402.7 515.91h-4.2M402.7 451.34h-4.2M402.7 386.77h-4.2" stroke="#2a2a2a" stroke-width="1.05" fill="none"/>
<path d="M403.74 565.5v2.3M407.54 565.5v2.3M410.9 565.5v2.3M402.7 561.04h-2.4M402.7 549.67h-2.4M402.7 541.6h-2.4M402.7 535.35h-2.4M402.7 530.23h-2.4M402.7 525.91h-2.4M402.7 522.17h-2.4M402.7 518.86h-2.4M402.7 496.47h-2.4M402.7 485.1h-2.4M402.7 477.03h-2.4M402.7 470.78h-2.4M402.7 465.66h-2.4M402.7 461.34h-2.4M402.7 457.6h-2.4M402.7 454.29h-2.4M402.7 431.9h-2.4M402.7 420.53h-2.4M402.7 412.46h-2.4M402.7 406.21h-2.4M402.7 401.09h-2.4M402.7 396.77h-2.4M402.7 393.03h-2.4M402.7 389.72h-2.4M402.7 367.33h-2.4M402.7 355.96h-2.4" stroke="#333" stroke-width="0.8" fill="none"/>
<path d="M402.1 350.5H677.17" stroke="#707070" stroke-width="1.4"/>
<path d="M402.1 566H677.17" stroke="#808080" stroke-width="2"/>
<path d="M402.7 349.8V567" stroke="#454545" stroke-width="1.2"/>
<path d="M676.57 349.8V567" stroke="#454545" stroke-width="1.2"/>
<text x="403.95" y="582" class="t">10</text>
<text x="418.15" y="577.8" class="s">0</text>
<text x="469.55" y="582" class="t">10</text>
<text x="483.75" y="577.8" class="s">1</text>
<text x="535.15" y="582" class="t">10</text>
<text x="549.35" y="577.8" class="s">2</text>
<text x="600.75" y="582" class="t">10</text>
<text x="614.95" y="577.8" class="s">3</text>
<text x="666.35" y="582" class="t">10</text>
<text x="680.55" y="577.8" class="s">4</text>
<text x="369.05" y="520.16" class="t">10</text>
<text x="383.6" y="515.71" class="s" textLength="11.3" lengthAdjust="spacingAndGlyphs">−3</text>
<text x="369.05" y="455.59" class="t">10</text>
<text x="383.6" y="451.14" class="s" textLength="11.3" lengthAdjust="spacingAndGlyphs">−2</text>
<text x="369.05" y="391.02" class="t">10</text>
<text x="383.6" y="386.57" class="s" textLength="11.3" lengthAdjust="spacingAndGlyphs">−1</text>
<text x="539.3" y="597" class="l" text-anchor="middle" textLength="48.9" lengthAdjust="spacingAndGlyphs">Iteration</text>
<text transform="translate(363,458.55) rotate(-90)" x="0" y="0" class="l" text-anchor="middle" textLength="23.9" lengthAdjust="spacingAndGlyphs">MSE</text>
<rect x="574" y="356.9" width="96.4" height="35.2" rx="2.4" fill="#fff" fill-opacity="0.8" stroke="#c2c2c2" stroke-width="0.95"/>
<path d="M577.3 365.4h24" stroke="#1f77b4" stroke-width="1.8"/>
<path d="M577.3 382h24" stroke="#ff7f0e" stroke-width="1.8"/>
<text x="609.5" y="369.5" class="l" textLength="46.5" lengthAdjust="spacingAndGlyphs">Training</text>
<text x="610.2" y="386" class="l" textLength="56.1" lengthAdjust="spacingAndGlyphs">Validation</text>
<text x="346.1" y="328.85" class="p" textLength="12.14" lengthAdjust="spacingAndGlyphs">d</text>
<clipPath id="clip_e"><rect x="55.55" y="666.66" width="273.45" height="215.41"/></clipPath>
<path d="M56.44 666.66V882.07M60.24 666.66V882.07M63.6 666.66V882.07M66.6 666.66V882.07M86.35 666.66V882.07M97.9 666.66V882.07M106.1 666.66V882.07M112.45 666.66V882.07M117.65 666.66V882.07M122.04 666.66V882.07M125.84 666.66V882.07M129.2 666.66V882.07M132.2 666.66V882.07M151.95 666.66V882.07M163.5 666.66V882.07M171.7 666.66V882.07M178.05 666.66V882.07M183.25 666.66V882.07M187.64 666.66V882.07M191.44 666.66V882.07M194.8 666.66V882.07M197.8 666.66V882.07M217.55 666.66V882.07M229.1 666.66V882.07M237.3 666.66V882.07M243.65 666.66V882.07M248.85 666.66V882.07M253.24 666.66V882.07M257.04 666.66V882.07M260.4 666.66V882.07M263.4 666.66V882.07M283.15 666.66V882.07M294.7 666.66V882.07M302.9 666.66V882.07M309.25 666.66V882.07M314.45 666.66V882.07M318.84 666.66V882.07M322.64 666.66V882.07M326 666.66V882.07M55.55 880.08H329M55.55 877.99H329M55.55 876.15H329M55.55 874.5H329M55.55 863.66H329M55.55 857.32H329M55.55 852.82H329M55.55 849.33H329M55.55 846.48H329M55.55 844.07H329M55.55 841.98H329M55.55 840.14H329M55.55 838.49H329M55.55 827.65H329M55.55 821.31H329M55.55 816.81H329M55.55 813.32H329M55.55 810.47H329M55.55 808.06H329M55.55 805.97H329M55.55 804.13H329M55.55 802.48H329M55.55 791.64H329M55.55 785.3H329M55.55 780.8H329M55.55 777.31H329M55.55 774.46H329M55.55 772.05H329M55.55 769.96H329M55.55 768.12H329M55.55 766.47H329M55.55 755.63H329M55.55 749.29H329M55.55 744.79H329M55.55 741.3H329M55.55 738.45H329M55.55 736.04H329M55.55 733.95H329M55.55 732.11H329M55.55 730.46H329M55.55 719.62H329M55.55 713.28H329M55.55 708.78H329M55.55 705.29H329M55.55 702.44H329M55.55 700.03H329M55.55 697.94H329M55.55 696.1H329M55.55 694.45H329M55.55 683.61H329M55.55 677.27H329M55.55 672.77H329M55.55 669.28H329M55.55 666.43H329" stroke="#b0b0b0" stroke-width="1" fill="none" clip-path="url(#clip_e)"/>
<path d="M55 680.5L66.6 680.5L74.7 682.8L86.5 685.7L97 688.1L107.6 689.7L116.8 691.6L122 693.6L127.9 696.9L132.5 702.1L136.5 703.4L139.1 706.7L141.7 712.3L145.3 713.6L147.9 718.8L150.9 726.7L153.1 726.3L155.8 736.8L158 736.3L160.1 746.4L162.3 744.7L164.5 753.9L165.8 751.2L168 756.9L171.5 764L176 775.5L180 783.5L186 793L190 799L195 806.5L200 814L203.5 819" stroke="#1f77b4" stroke-width="1.8" fill="none" stroke-linejoin="round" stroke-linecap="square" clip-path="url(#clip_e)"/>
<path d="M55 685.4L66.6 685.4L86.5 688.3L98.4 689.7L106.2 691.2L112.8 692.3L119.4 694.9L126 697.5L131.2 703.4L135.1 704.1L137.8 706.7L139.7 712.3L143.1 713.6L145.7 717.5L148.3 724.5L150.5 729.8L152.3 726.7L154.4 738.5L157.1 736.3L159.3 749.9L161.5 744.6L163.6 757.8L165.6 750.7L167.2 762L168.7 757.4L170.7 764.5L171.8 759.4L173.3 775.8L175.3 768.1L176.4 773.7L177.4 786L179.4 781.9L180.4 787L182 789L182.5 791.19L183.19 785.8L183.96 794.65L184.43 789.75L184.9 796.88L185.32 789.83L185.78 798.98L186.35 790.18L187 801.7L187.49 794.93L188.27 803.56L188.45 803.7L188.6 782.4L188.75 803.95L189.02 786.28L189.73 804.75L190.48 797.27L191.24 805.98L191.97 798.34L192.53 807.02L193.1 801.05L193.51 807.82L194.26 800.73L194.95 809.47L195.67 805.63L196.35 811.4L196.8 807.15L197.41 812.86L197.99 807.87L198.54 814.41L199.14 810.64L199.61 815.89L200.14 812.57L200.82 817.54L201.36 812.44L202.17 819.37L202.6 813.77L203.36 820.98L204 821.3L205.5 771.2L205.6 815L205.87 779.66L206.38 822.68L206.78 791.49L207.14 823.05L207.42 795.28L207.85 823.39L208.21 799.05L208.59 823.75L209.14 803.42L209.41 824.15L209.74 808.33L210.21 824.53L210.63 811.32L211.05 824.94L211.46 815.33L211.83 825.32L212.28 816.84L212.55 825.66L212.79 819.58L213.09 825.92L213.56 821.7L213.87 826.3L214.33 824.79L215.5 826.8L216.3 747.6L216.6 784.76L216.96 770.62L217.34 792.95L217.69 788.55L218.02 803L218.25 798.45L218.47 805.65L218.81 805.74L219.07 810.26L219.33 810.89L219.7 814L219.98 815.58L220.37 817.74L220.72 819.37L221.09 820.76L221.43 821.83L221.74 822.66L221.8 822.8L222.2 822.8L223 761.3L223.3 771.39L223.67 773.61L223.99 781.86L224.22 782.32L224.6 790.41L224.99 792.67L225.22 798.2L225.58 799.41L225.95 804.4L226.23 805.79L226.45 809.42L226.72 809.97L227.11 813.93L227.46 815.31L227.82 818.35L228.13 819.46L228.52 822.16L228.79 822.88L229.05 824.66L229.29 825.15L229.61 826.83L229.92 827.62L230.15 828.74L230.53 829.67L230.8 830.63L231.17 831.52L231.48 832.42L231.7 832.84L232.04 833.67L232.34 834.23L232.6 834.76L232.94 835.34L233.2 835.79L233.59 836.39L233.96 836.91L234.28 837.31L234.6 837.7L235.2 837.7L235.9 764L236.2 782.76L236.54 791.89L236.92 806.05L237.2 809.99L237.45 816.17L237.69 818.69L237.92 822.79L238.28 825.99L238.59 829.39L238.96 831.34L239.32 833.38L239.69 834.81L239.9 835.5L240.4 835.5L241.1 769L241.4 790.26L241.76 801.09L242.09 813.12L242.31 816.87L242.54 822.69L242.79 825.61L243.1 830.05L243.34 832.01L243.6 834.48L243.9 836.1L244.18 837.56L244.4 838.4L244.8 838.4L245.4 758.6L245.7 777.03L245.99 783.07L246.37 799.36L246.63 802.35L246.89 810.67L247.17 814.53L247.38 820.51L247.7 823.53L247.98 828.92L248.25 830.73L248.57 834.9L248.88 836.72L249.2 839.5L249.59 841.58L249.93 843.52L250.2 844.6L250.52 845.86L250.83 846.8L251 847.3L251.3 847.3L251.7 749L252 763.03L252.34 770.24L252.68 782.54L252.97 787.46L253.28 796.47L253.57 800.56L253.78 806.04L254.17 811.38L254.53 818.08L254.87 821.6L255.12 825.47L255.43 828.09L255.76 831.99L256.06 834.2L256.43 837.81L256.82 840.06L257.05 842.02L257.41 843.67L257.62 845.1L257.97 846.52L258.22 847.82L258.58 849.07L258.93 850.42L259.16 851.04L259.46 851.99L259.77 852.77L260.03 853.41L260.3 854L260.8 854L261.4 765.2L261.7 783.28L262.09 795.62L262.37 806.49L262.71 815.16L262.98 823.22L263.34 829.13L263.56 833.91L263.82 836.97L264.09 841.07L264.4 844.08L264.65 846.95L264.91 848.82L265.14 850.76L265.48 852.72L265.74 854.27L266.02 855.49L266.27 856.57L266.62 857.74L266.7 858L267.2 858L267.8 762L268.1 791.37L268.39 808.46L268.69 824.77L269 834.59L269.34 844.06L269.66 849.41L269.89 853L270.16 855.67L270.52 858.5L270.6 859L270.8 859L271.1 773.1L271.4 797.71L271.72 813.46L271.96 825.37L272.31 835.39L272.6 843.01L272.94 848.8L273.29 853.71L273.55 856.05L273.81 858.13L274.05 859.61L274.2 860.4L274.4 860.4L274.6 770.7L274.9 798.05L275.2 814.98L275.49 829.89L275.76 838.04L276 845.27L276.23 849.17L276.5 853.96L276.77 856.95L277.15 860.45L277.4 862L277.6 862L277.8 769.9L278.1 817.08L278.48 843.41L278.78 855.02L279.01 859.78L279.2 862.5L279.4 862.5L279.6 790L279.9 839.59L280.27 860.04L280.4 863L280.5 863L280.7 781L281 837.04L281.35 859.48L281.5 863.5L281.6 863.5L281.8 784L282.1 838.35L282.35 856.35L282.6 864L282.7 864L282.9 780L283.2 837.2L283.57 860.67L283.7 864.2L283.8 864.2L284 786L284.3 837.09L284.59 856.34L284.85 863.53L284.9 864.4L285.3 864.4L285.7 765.2L286 797.94L286.28 819.42L286.66 838.37L286.9 846.83L287.17 853.49L287.39 857.49L287.7 861.66L287.92 863.76L288 864.4L288.1 864.4L288.4 773.9L288.7 798.83L289 817.11L289.28 830.1L289.54 838.93L289.81 845.91L290.18 853L290.56 857.95L290.9 861.07L291.15 862.71L291.2 863L291.3 863L291.6 767.5L291.9 798.88L292.18 819.32L292.54 837.99L292.92 850.36L293.17 855.96L293.5 861.09L293.78 864.17L294 866L294.1 866L294.4 804.8L294.7 862.74L294.8 872.3" stroke="#ff7f0e" stroke-width="1.8" fill="none" stroke-linejoin="round" stroke-linecap="square" clip-path="url(#clip_e)"/>
<path d="M66.6 882.07v3.9M86.35 882.07v3.9M97.9 882.07v3.9M106.1 882.07v3.9M112.45 882.07v3.9M117.65 882.07v3.9M122.04 882.07v3.9M125.84 882.07v3.9M129.2 882.07v3.9M132.2 882.07v3.9M151.95 882.07v3.9M163.5 882.07v3.9M171.7 882.07v3.9M178.05 882.07v3.9M183.25 882.07v3.9M187.64 882.07v3.9M191.44 882.07v3.9M194.8 882.07v3.9M197.8 882.07v3.9M217.55 882.07v3.9M229.1 882.07v3.9M237.3 882.07v3.9M243.65 882.07v3.9M248.85 882.07v3.9M253.24 882.07v3.9M257.04 882.07v3.9M260.4 882.07v3.9M263.4 882.07v3.9M283.15 882.07v3.9M294.7 882.07v3.9M302.9 882.07v3.9M309.25 882.07v3.9M314.45 882.07v3.9M318.84 882.07v3.9M322.64 882.07v3.9M326 882.07v3.9M329 882.07v3.9M55.55 874.5h-4.2M55.55 838.49h-4.2M55.55 802.48h-4.2M55.55 766.47h-4.2M55.55 730.46h-4.2M55.55 694.45h-4.2" stroke="#2a2a2a" stroke-width="1.05" fill="none"/>
<path d="M56.44 882.07v2.3M60.24 882.07v2.3M63.6 882.07v2.3M55.55 882.49h-2.4M55.55 880.08h-2.4M55.55 877.99h-2.4M55.55 876.15h-2.4M55.55 863.66h-2.4M55.55 857.32h-2.4M55.55 852.82h-2.4M55.55 849.33h-2.4M55.55 846.48h-2.4M55.55 844.07h-2.4M55.55 841.98h-2.4M55.55 840.14h-2.4M55.55 827.65h-2.4M55.55 821.31h-2.4M55.55 816.81h-2.4M55.55 813.32h-2.4M55.55 810.47h-2.4M55.55 808.06h-2.4M55.55 805.97h-2.4M55.55 804.13h-2.4M55.55 791.64h-2.4M55.55 785.3h-2.4M55.55 780.8h-2.4M55.55 777.31h-2.4M55.55 774.46h-2.4M55.55 772.05h-2.4M55.55 769.96h-2.4M55.55 768.12h-2.4M55.55 755.63h-2.4M55.55 749.29h-2.4M55.55 744.79h-2.4M55.55 741.3h-2.4M55.55 738.45h-2.4M55.55 736.04h-2.4M55.55 733.95h-2.4M55.55 732.11h-2.4M55.55 719.62h-2.4M55.55 713.28h-2.4M55.55 708.78h-2.4M55.55 705.29h-2.4M55.55 702.44h-2.4M55.55 700.03h-2.4M55.55 697.94h-2.4M55.55 696.1h-2.4M55.55 683.61h-2.4M55.55 677.27h-2.4M55.55 672.77h-2.4M55.55 669.28h-2.4M55.55 666.43h-2.4" stroke="#333" stroke-width="0.8" fill="none"/>
<path d="M54.95 667H330" stroke="#888888" stroke-width="2"/>
<path d="M54.95 882.5H330" stroke="#555555" stroke-width="1.2"/>
<path d="M55.55 666V883.1" stroke="#454545" stroke-width="1.2"/>
<path d="M329 666V883.1" stroke="#909090" stroke-width="2"/>
<text x="56.65" y="898.57" class="t">10</text>
<text x="70.85" y="894.37" class="s">0</text>
<text x="122.25" y="898.57" class="t">10</text>
<text x="136.45" y="894.37" class="s">1</text>
<text x="187.85" y="898.57" class="t">10</text>
<text x="202.05" y="894.37" class="s">2</text>
<text x="253.45" y="898.57" class="t">10</text>
<text x="267.65" y="894.37" class="s">3</text>
<text x="319.05" y="898.57" class="t">10</text>
<text x="333.25" y="894.37" class="s">4</text>
<text x="21.9" y="878.75" class="t">10</text>
<text x="36.45" y="874.3" class="s" textLength="11.3" lengthAdjust="spacingAndGlyphs">−6</text>
<text x="21.9" y="842.74" class="t">10</text>
<text x="36.45" y="838.29" class="s" textLength="11.3" lengthAdjust="spacingAndGlyphs">−5</text>
<text x="21.9" y="806.73" class="t">10</text>
<text x="36.45" y="802.28" class="s" textLength="11.3" lengthAdjust="spacingAndGlyphs">−4</text>
<text x="21.9" y="770.72" class="t">10</text>
<text x="36.45" y="766.27" class="s" textLength="11.3" lengthAdjust="spacingAndGlyphs">−3</text>
<text x="21.9" y="734.71" class="t">10</text>
<text x="36.45" y="730.26" class="s" textLength="11.3" lengthAdjust="spacingAndGlyphs">−2</text>
<text x="21.9" y="698.7" class="t">10</text>
<text x="36.45" y="694.25" class="s" textLength="11.3" lengthAdjust="spacingAndGlyphs">−1</text>
<text x="192.08" y="913.57" class="l" text-anchor="middle" textLength="48.9" lengthAdjust="spacingAndGlyphs">Iteration</text>
<text transform="translate(15.85,774.87) rotate(-90)" x="0" y="0" class="l" text-anchor="middle" textLength="23.9" lengthAdjust="spacingAndGlyphs">MSE</text>
<rect x="226.7" y="672.96" width="96.4" height="35.2" rx="2.4" fill="#fff" fill-opacity="0.8" stroke="#c2c2c2" stroke-width="0.95"/>
<path d="M230 681.46h24" stroke="#1f77b4" stroke-width="1.8"/>
<path d="M230 698.06h24" stroke="#ff7f0e" stroke-width="1.8"/>
<text x="262.2" y="685.56" class="l" textLength="46.5" lengthAdjust="spacingAndGlyphs">Training</text>
<text x="262.9" y="702.06" class="l" textLength="56.1" lengthAdjust="spacingAndGlyphs">Validation</text>
<text x="-0.7" y="644.3" class="p" textLength="10.39" lengthAdjust="spacingAndGlyphs">e</text>
<clipPath id="clip_f"><rect x="402.7" y="666.66" width="273.6" height="215.41"/></clipPath>
<path d="M403.74 666.66V882.07M407.54 666.66V882.07M410.9 666.66V882.07M413.9 666.66V882.07M433.65 666.66V882.07M445.2 666.66V882.07M453.4 666.66V882.07M459.75 666.66V882.07M464.95 666.66V882.07M469.34 666.66V882.07M473.14 666.66V882.07M476.5 666.66V882.07M479.5 666.66V882.07M499.25 666.66V882.07M510.8 666.66V882.07M519 666.66V882.07M525.35 666.66V882.07M530.55 666.66V882.07M534.94 666.66V882.07M538.74 666.66V882.07M542.1 666.66V882.07M545.1 666.66V882.07M564.85 666.66V882.07M576.4 666.66V882.07M584.6 666.66V882.07M590.95 666.66V882.07M596.15 666.66V882.07M600.54 666.66V882.07M604.34 666.66V882.07M607.7 666.66V882.07M610.7 666.66V882.07M630.45 666.66V882.07M642 666.66V882.07M650.2 666.66V882.07M656.55 666.66V882.07M661.75 666.66V882.07M666.14 666.66V882.07M669.94 666.66V882.07M673.3 666.66V882.07M402.7 879.99H676.3M402.7 878.12H676.3M402.7 876.45H676.3M402.7 865.44H676.3M402.7 859.01H676.3M402.7 854.44H676.3M402.7 850.9H676.3M402.7 848H676.3M402.7 845.55H676.3M402.7 843.43H676.3M402.7 841.56H676.3M402.7 839.89H676.3M402.7 828.88H676.3M402.7 822.45H676.3M402.7 817.88H676.3M402.7 814.34H676.3M402.7 811.44H676.3M402.7 808.99H676.3M402.7 806.87H676.3M402.7 805H676.3M402.7 803.33H676.3M402.7 792.32H676.3M402.7 785.89H676.3M402.7 781.32H676.3M402.7 777.78H676.3M402.7 774.88H676.3M402.7 772.43H676.3M402.7 770.31H676.3M402.7 768.44H676.3M402.7 766.77H676.3M402.7 755.76H676.3M402.7 749.33H676.3M402.7 744.76H676.3M402.7 741.22H676.3M402.7 738.32H676.3M402.7 735.87H676.3M402.7 733.75H676.3M402.7 731.88H676.3M402.7 730.21H676.3M402.7 719.2H676.3M402.7 712.77H676.3M402.7 708.2H676.3M402.7 704.66H676.3M402.7 701.76H676.3M402.7 699.31H676.3M402.7 697.19H676.3M402.7 695.32H676.3M402.7 693.65H676.3M402.7 682.64H676.3M402.7 676.21H676.3M402.7 671.64H676.3M402.7 668.1H676.3" stroke="#b0b0b0" stroke-width="1" fill="none" clip-path="url(#clip_f)"/>
<path d="M402 681.5L413.8 681.5L430.2 688.1L433.5 689.4L445.4 688.6L453.2 690.3L459.2 696.2L463.8 697.3L469 695.6L473.6 697.5L479.5 702.1L483.5 707.8L488.5 708.3L491.9 716.3L495.8 719.2L499.8 724.1L501.8 736L503.7 730.5L505.7 742.5L508.2 739.9L510.6 749.3L512.6 750.5L515.5 756.5L519.9 762.3L523.2 768.8L527.3 780.3L531.4 790.2L535.5 797.6L540.4 805.8" stroke="#1f77b4" stroke-width="1.8" fill="none" stroke-linejoin="round" stroke-linecap="square" clip-path="url(#clip_f)"/>
<path d="M402 689.4L414.5 689.4L433.5 688.6L445.4 690.3L453.2 696.5L458.5 697.3L465.1 695.6L470.3 698.2L475.6 701.5L478.9 704.8L482.4 709.1L486.1 708L487.5 708.4L490.9 718.2L493.9 718.7L495.8 723.2L498.3 724.1L500.8 738.4L502.7 731.5L504.7 744.8L507.2 740.9L509.6 751.7L511.6 751.2L514.1 761.1L515.2 753.5L515.4 759.26L515.71 756.48L516.23 772.21L516.54 759.43L517.08 769.22L517.62 758.49L517.94 766.23L518.37 760.15L519 769.98L519.27 760.09L519.69 773.26L520.08 763.95L520.69 779.98L521.04 765.44L521.51 783.46L522.08 768.66L522.42 783.64L523.05 771.88L523.58 784.08L524.09 773.17L524.64 784.87L524.98 773.55L525.33 785.38L525.72 776.51L526.14 786.61L526.71 776.97L527.33 788.7L527.7 789.23L528.25 782.17L528.71 790.39L529.34 785.17L529.66 791.48L530.02 786.61L530.39 792.32L530.78 788.31L531.25 793.31L531.55 790.09L532.01 794.18L532.55 791.02L532.97 795.78L533.5 792.8L533.91 797.49L534.29 794.02L534.86 799.2L535.47 797.03L535.94 801.15L536.5 798.56L536.82 802.53L537.12 799.18L537.4 803.35L537.84 801.06L538.28 804.6L538.68 801.55L539.27 806L539.62 804.03L540.03 807.08L540.8 807.6L542.9 785.4L543 803.13L543.35 787.98L543.68 812.98L544.03 792.65L544.58 814.12L544.97 796.86L545.32 815.05L545.66 797.87L546.04 815.95L546.42 802.03L546.8 816.91L547.29 803.18L547.6 817.92L547.93 805.16L548.24 818.64L548.73 807.42L549.22 819.62L549.64 809.7L550.01 820.41L550.5 813.09L551.04 821.44L551.32 814.77L551.67 822.07L552.04 815.92L552.49 822.89L553.03 817.83L553.37 823.77L553.84 819.38L554.31 824.71L554.62 821.73L555.17 824.93L555.8 824.6L556.8 825L557.9 787.4L558.2 825.15L558.58 804.23L558.95 819.51L559.27 814.9L559.55 825.4L559.79 820.23L560.03 826.47L560.28 823.83L560.57 827.1L560.8 826.49L561.14 828.82L561.44 828.72L561.78 829.78L562 830.02L562.1 830.2L562.5 830.2L563.7 752.5L564 784.95L564.33 771.09L564.65 792.22L564.93 782.36L565.27 791.8L565.59 790.23L565.91 794.74L566.14 794.46L566.43 796.88L566.75 797.5L567.04 798.56L567.28 799.25L567.53 799.84L567.6 800L567.9 800L568.5 775.5L568.8 792.88L569.03 784.64L569.26 796.26L569.52 792.01L569.83 805.95L570.1 799.68L570.38 807.31L570.64 805.85L570.99 811.96L571.25 811.82L571.48 814.81L571.82 816.6L572.17 819.3L572.48 821.42L572.86 823.79L573.24 825.96L573.48 827.23L573.7 828.32L573.98 829.65L574.34 831.18L574.67 832.49L575.03 833.77L575.41 835.01L575.8 836.16L576.14 837.09L576.53 838.04L576.8 838.67L577.03 839.14L577.32 839.72L577.7 840.41L578.08 841.03L578.31 841.38L578.61 841.81L578.92 842.22L579.28 842.65L579.56 842.96L579.6 843L580.4 843L581.2 760.4L581.5 773.11L581.77 773.75L582.14 787L582.51 788.27L582.85 797.44L583.18 799.08L583.54 807.43L583.79 807.42L584.06 812.99L584.41 814.48L584.72 819.75L585.08 820.98L585.3 824.76L585.57 825.12L585.89 829.08L586.14 829.19L586.52 832.36L586.83 833.39L587.14 835.7L587.45 836.53L587.75 838.48L588.09 839.26L588.3 840.52L588.65 841.31L588.88 842.54L589.13 842.84L589.46 843.99L589.75 844.55L590.04 845.37L590.37 845.99L590.67 846.7L590.98 847.17L591.29 847.75L591.55 848.13L591.8 848.5L592.2 848.5L592.8 751.7L593.1 776.24L593.47 791.57L593.83 809.39L594.18 817L594.51 826.71L594.78 829.85L595.04 834.93L595.31 837.38L595.69 841.62L595.97 843.39L596.26 845.36L596.55 846.69L596.6 846.9L597 846.9L597.5 762L597.8 774.27L598.06 779.69L598.29 787.77L598.54 792.39L598.91 802.39L599.14 805.28L599.43 811.79L599.74 815.93L600.03 821.62L600.29 823.77L600.65 828.88L601.04 832.34L601.36 835.8L601.72 838.38L601.98 840.71L602.21 841.96L602.57 844.4L602.92 846.07L603.2 847.66L603.46 848.62L603.69 849.7L604.01 850.75L604.25 851.66L604.63 852.68L604.87 853.36L605.19 854.12L605.43 854.65L605.6 855L605.8 855L606.2 757.2L606.5 781.19L606.81 794.95L607.16 811.7L607.48 820.07L607.8 829L608.03 832.98L608.26 837.65L608.5 840.45L608.79 844.1L609.11 846.79L609.42 849.15L609.71 850.68L609.9 851.6L610 851.6L610.2 773.6L610.5 788.93L610.84 798.67L611.22 811.66L611.59 819.77L611.98 829.53L612.21 832.55L612.49 838.08L612.85 842.4L613.07 845.59L613.41 848.93L613.75 852.5L614 854.26L614.28 856.46L614.55 858.06L614.84 859.79L615.15 861.25L615.44 862.5L615.7 863.48L616.04 864.58L616.28 865.27L616.4 865.6L616.6 865.6L616.9 754.4L617.2 775.46L617.58 790.27L617.89 805.06L618.18 812.28L618.5 823.61L618.88 830.77L619.21 838.24L619.43 841.01L619.8 846.91L620.07 849.67L620.29 852.35L620.57 854.64L620.96 857.94L621.3 859.82L621.63 861.67L621.87 862.69L622.19 863.95L622.2 864L622.5 864L623 760.5L623.3 782.32L623.61 795.06L623.84 806.93L624.13 816.57L624.37 825.96L624.64 831.74L624.96 840.55L625.28 845.65L625.58 851.15L625.86 854.44L626.24 859.14L626.5 861.33L626.8 863.91L627.15 866.07L627.42 867.61L627.63 868.57L627.9 869.7L628.1 869.7L628.4 765.4L628.7 801.88L629.01 826.95L629.38 845.74L629.62 853.62L629.96 861.15L630.34 866.45L630.5 868L630.6 868L630.9 785L631.2 839.73L631.43 857.56L631.8 869L631.9 869L632.1 778.5L632.4 834.38L632.78 861.84L633.01 868.46L633.1 870L633.2 870L633.4 773.6L633.7 837.07L633.92 857.37L634.15 867.35L634.3 871L634.4 871L634.6 790L634.9 845.7L635.24 867.67L635.4 872L636.2 872.2L636.6 762.9L636.9 791.98L637.22 815.07L637.53 830.89L637.78 841.17L638.1 850.55L638.49 858.81L638.81 863.68L639.18 867.59L639.43 869.51L639.5 870L639.7 870L640.2 777.7L640.5 820.56L640.84 847.16L641.06 857.18L641.42 866.55L641.66 870.1L641.7 870.5" stroke="#ff7f0e" stroke-width="1.8" fill="none" stroke-linejoin="round" stroke-linecap="square" clip-path="url(#clip_f)"/>
<path d="M413.9 882.07v3.9M433.65 882.07v3.9M445.2 882.07v3.9M453.4 882.07v3.9M459.75 882.07v3.9M464.95 882.07v3.9M469.34 882.07v3.9M473.14 882.07v3.9M476.5 882.07v3.9M479.5 882.07v3.9M499.25 882.07v3.9M510.8 882.07v3.9M519 882.07v3.9M525.35 882.07v3.9M530.55 882.07v3.9M534.94 882.07v3.9M538.74 882.07v3.9M542.1 882.07v3.9M545.1 882.07v3.9M564.85 882.07v3.9M576.4 882.07v3.9M584.6 882.07v3.9M590.95 882.07v3.9M596.15 882.07v3.9M600.54 882.07v3.9M604.34 882.07v3.9M607.7 882.07v3.9M610.7 882.07v3.9M630.45 882.07v3.9M642 882.07v3.9M650.2 882.07v3.9M656.55 882.07v3.9M661.75 882.07v3.9M666.14 882.07v3.9M669.94 882.07v3.9M673.3 882.07v3.9M676.3 882.07v3.9M402.7 876.45h-4.2M402.7 839.89h-4.2M402.7 803.33h-4.2M402.7 766.77h-4.2M402.7 730.21h-4.2M402.7 693.65h-4.2" stroke="#2a2a2a" stroke-width="1.05" fill="none"/>
<path d="M403.74 882.07v2.3M407.54 882.07v2.3M410.9 882.07v2.3M402.7 882.11h-2.4M402.7 879.99h-2.4M402.7 878.12h-2.4M402.7 865.44h-2.4M402.7 859.01h-2.4M402.7 854.44h-2.4M402.7 850.9h-2.4M402.7 848h-2.4M402.7 845.55h-2.4M402.7 843.43h-2.4M402.7 841.56h-2.4M402.7 828.88h-2.4M402.7 822.45h-2.4M402.7 817.88h-2.4M402.7 814.34h-2.4M402.7 811.44h-2.4M402.7 808.99h-2.4M402.7 806.87h-2.4M402.7 805h-2.4M402.7 792.32h-2.4M402.7 785.89h-2.4M402.7 781.32h-2.4M402.7 777.78h-2.4M402.7 774.88h-2.4M402.7 772.43h-2.4M402.7 770.31h-2.4M402.7 768.44h-2.4M402.7 755.76h-2.4M402.7 749.33h-2.4M402.7 744.76h-2.4M402.7 741.22h-2.4M402.7 738.32h-2.4M402.7 735.87h-2.4M402.7 733.75h-2.4M402.7 731.88h-2.4M402.7 719.2h-2.4M402.7 712.77h-2.4M402.7 708.2h-2.4M402.7 704.66h-2.4M402.7 701.76h-2.4M402.7 699.31h-2.4M402.7 697.19h-2.4M402.7 695.32h-2.4M402.7 682.64h-2.4M402.7 676.21h-2.4M402.7 671.64h-2.4M402.7 668.1h-2.4" stroke="#333" stroke-width="0.8" fill="none"/>
<path d="M402.1 667H677.17" stroke="#888888" stroke-width="2"/>
<path d="M402.1 882.5H677.17" stroke="#555555" stroke-width="1.2"/>
<path d="M402.7 666V883.1" stroke="#454545" stroke-width="1.2"/>
<path d="M676.57 666V883.1" stroke="#454545" stroke-width="1.2"/>
<text x="403.95" y="898.57" class="t">10</text>
<text x="418.15" y="894.37" class="s">0</text>
<text x="469.55" y="898.57" class="t">10</text>
<text x="483.75" y="894.37" class="s">1</text>
<text x="535.15" y="898.57" class="t">10</text>
<text x="549.35" y="894.37" class="s">2</text>
<text x="600.75" y="898.57" class="t">10</text>
<text x="614.95" y="894.37" class="s">3</text>
<text x="666.35" y="898.57" class="t">10</text>
<text x="680.55" y="894.37" class="s">4</text>
<text x="369.05" y="880.7" class="t">10</text>
<text x="383.6" y="876.25" class="s" textLength="11.3" lengthAdjust="spacingAndGlyphs">−6</text>
<text x="369.05" y="844.14" class="t">10</text>
<text x="383.6" y="839.69" class="s" textLength="11.3" lengthAdjust="spacingAndGlyphs">−5</text>
<text x="369.05" y="807.58" class="t">10</text>
<text x="383.6" y="803.13" class="s" textLength="11.3" lengthAdjust="spacingAndGlyphs">−4</text>
<text x="369.05" y="771.02" class="t">10</text>
<text x="383.6" y="766.57" class="s" textLength="11.3" lengthAdjust="spacingAndGlyphs">−3</text>
<text x="369.05" y="734.46" class="t">10</text>
<text x="383.6" y="730.01" class="s" textLength="11.3" lengthAdjust="spacingAndGlyphs">−2</text>
<text x="369.05" y="697.9" class="t">10</text>
<text x="383.6" y="693.45" class="s" textLength="11.3" lengthAdjust="spacingAndGlyphs">−1</text>
<text x="539.3" y="913.57" class="l" text-anchor="middle" textLength="48.9" lengthAdjust="spacingAndGlyphs">Iteration</text>
<text transform="translate(363,774.87) rotate(-90)" x="0" y="0" class="l" text-anchor="middle" textLength="23.9" lengthAdjust="spacingAndGlyphs">MSE</text>
<rect x="574" y="672.96" width="96.4" height="35.2" rx="2.4" fill="#fff" fill-opacity="0.8" stroke="#c2c2c2" stroke-width="0.95"/>
<path d="M577.3 681.46h24" stroke="#1f77b4" stroke-width="1.8"/>
<path d="M577.3 698.06h24" stroke="#ff7f0e" stroke-width="1.8"/>
<text x="609.5" y="685.56" class="l" textLength="46.5" lengthAdjust="spacingAndGlyphs">Training</text>
<text x="610.2" y="702.06" class="l" textLength="56.1" lengthAdjust="spacingAndGlyphs">Validation</text>
<text x="346.83" y="644.7" class="p" textLength="8.05" lengthAdjust="spacingAndGlyphs">f</text>
</svg>
</body></html>
